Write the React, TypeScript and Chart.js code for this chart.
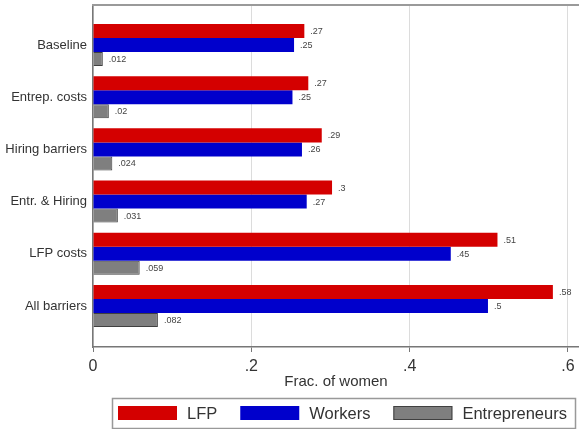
import React, { useEffect, useRef } from "react";
import { Chart, registerables } from "chart.js";

Chart.register(...registerables);

const categories = [
  "Baseline",
  "Entrep. costs",
  "Hiring barriers",
  "Entr. & Hiring",
  "LFP costs",
  "All barriers",
];
const seriesNames = ["LFP", "Workers", "Entrepreneurs"];
const lfp = [0.267, 0.272, 0.289, 0.302, 0.511, 0.581];
const workers = [0.254, 0.252, 0.264, 0.27, 0.452, 0.499];
const entrepreneurs = [0.0124, 0.02, 0.0244, 0.0314, 0.059, 0.082];
const xTicks = [0, 0.2, 0.4, 0.6];

const FONT = "'Liberation Sans', Arial, Helvetica, sans-serif";

function stataFmt(v: number): string {
  if (v === 0) return "0";
  const s = Number(v.toPrecision(2)).toString();
  return s.replace(/^0\./, ".");
}

const extrasPlugin = {
  id: "extras",
  afterDatasetsDraw(chart: any) {
    const ctx = chart.ctx;
    ctx.save();
    ctx.font = `9px ${FONT}`;
    ctx.fillStyle = "#444";
    ctx.textAlign = "left";
    ctx.textBaseline = "middle";
    chart.data.datasets.forEach((ds: any, di: number) => {
      const meta = chart.getDatasetMeta(di);
      meta.data.forEach((el: any, i: number) => {
        const v = ds.data[i].x;
        ctx.fillText(stataFmt(v), el.x + 6, el.y + 0.5);
      });
    });
    ctx.restore();
  },
  afterDraw(chart: any) {
    const ctx = chart.ctx;
    const a = chart.chartArea;
    ctx.save();
    // top frame line
    ctx.strokeStyle = "#9a9a9a";
    ctx.lineWidth = 2;
    ctx.beginPath();
    ctx.moveTo(a.left - 1, a.top);
    ctx.lineTo(a.right, a.top);
    ctx.stroke();

    // legend
    const boxL = 112;
    const boxW = 463;
    const boxH = 30;
    const boxT = chart.height - 31;
    ctx.strokeStyle = "#999";
    ctx.lineWidth = 1.5;
    ctx.strokeRect(boxL + 0.5, boxT + 0.5, boxW, boxH);
    ctx.font = `16.5px ${FONT}`;
    const sw = 59;
    const sh = 14;
    const gap = 10;
    const itemGap = 23;
    const widths = chart.data.datasets.map((d: any) => ctx.measureText(d.label).width);
    let x = boxL + 6;
    chart.data.datasets.forEach((d: any, i: number) => {
      ctx.fillStyle = d.backgroundColor;
      ctx.fillRect(x, boxT + 8, sw, sh);
      if (d.borderWidth) {
        ctx.strokeStyle = d.borderColor;
        ctx.lineWidth = 1;
        ctx.strokeRect(x + 0.5, boxT + 8.5, sw - 1, sh - 1);
      }
      ctx.fillStyle = "#333";
      ctx.textAlign = "left";
      ctx.textBaseline = "middle";
      ctx.fillText(d.label, x + sw + gap, boxT + 16);
      x += sw + gap + widths[i] + itemGap;
    });
    ctx.restore();
  },
};

export default function App() {
  const ref = useRef<HTMLCanvasElement | null>(null);

  useEffect(() => {
    if (!ref.current) return;
    const mk = (arr: number[]) => arr.map((v, i) => ({ x: v, y: i }));
    const chart = new Chart(ref.current, {
      type: "bar",
      data: {
        datasets: [
          {
            label: seriesNames[0],
            data: mk(lfp),
            backgroundColor: "#d40000",
            borderWidth: 0,
          },
          {
            label: seriesNames[1],
            data: mk(workers),
            backgroundColor: "#0000cc",
            borderWidth: 0,
          },
          {
            label: seriesNames[2],
            data: mk(entrepreneurs),
            backgroundColor: "#7f7f7f",
            borderColor: "#404040",
            borderWidth: 1,
          },
        ],
      } as any,
      options: {
        indexAxis: "y",
        animation: false,
        responsive: false,
        maintainAspectRatio: false,
        layout: { autoPadding: false, padding: { top: 5, right: 0, bottom: 37, left: 0 } },
        datasets: {
          bar: { categoryPercentage: 0.805, barPercentage: 1 },
        } as any,
        plugins: {
          legend: { display: false },
          tooltip: { enabled: false },
        },
        scales: {
          y: {
            type: "linear",
            reverse: true,
            min: -0.766,
            max: 5.786,
            offset: false,
            afterBuildTicks: (s: any) => {
              s.ticks = categories.map((_, i) => ({ value: i }));
            },
            afterFit: (s: any) => {
              s.width = 93;
              s.paddingTop = 0;
              s.paddingBottom = 0;
            },
            ticks: {
              autoSkip: false,
              padding: 6,
              color: "#333",
              font: { size: 13, family: FONT },
              callback: (v: any) => categories[v as number] ?? "",
            },
            grid: { display: true, drawOnChartArea: false, drawTicks: false },
            border: { display: true, color: "#777", width: 1.5 },
          } as any,
          x: {
            type: "linear",
            min: 0,
            max: 0.614,
            afterBuildTicks: (s: any) => {
              s.ticks = xTicks.map((v) => ({ value: v }));
            },
            afterFit: (s: any) => {
              s.height = 45;
              s.paddingLeft = 0;
              s.paddingRight = 0;
            },
            ticks: {
              autoSkip: false,
              maxRotation: 0,
              padding: 5,
              color: "#333",
              font: { size: 16, family: FONT },
              callback: (v: any) => stataFmt(Number(v)),
            },
            grid: {
              color: "#dcdcdc",
              lineWidth: 1,
              tickColor: "#777",
              tickLength: 5,
              drawTicks: true,
            },
            border: { display: true, color: "#777", width: 1.5 },
            title: {
              display: true,
              text: "Frac. of women",
              color: "#333",
              font: { size: 15, family: FONT },
              padding: { top: 0, bottom: 1 },
            },
          } as any,
        },
      },
      plugins: [extrasPlugin],
    });
    return () => chart.destroy();
  }, []);

  return (
    <div style={{ position: "absolute", left: 0, top: 0, width: 579, height: 429 }}>
      <canvas ref={ref} width={579} height={429} />
    </div>
  );
}
